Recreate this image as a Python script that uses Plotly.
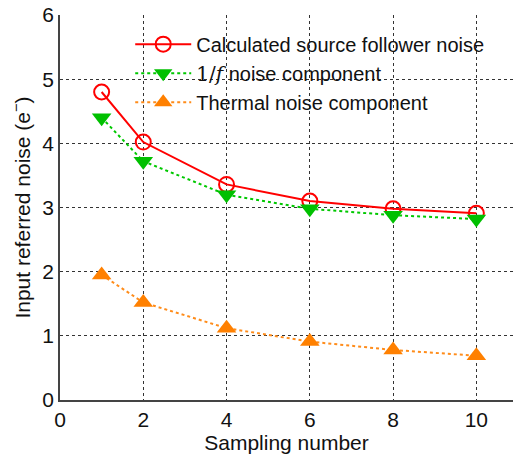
import plotly.graph_objects as go

sampling = [1, 2, 4, 6, 8, 10]
total_noise = [4.80, 4.02, 3.36, 3.10, 2.98, 2.91]
flicker_noise = [4.40, 3.72, 3.20, 2.98, 2.88, 2.82]
thermal_noise = [1.95, 1.52, 1.12, 0.91, 0.78, 0.69]
x_ticks = [0, 2, 4, 6, 8, 10, 12]
y_ticks = [0, 1, 2, 3, 4, 5, 6]

fig = go.Figure()
fig.add_trace(go.Scatter(
    x=sampling, y=total_noise, mode="lines+markers",
    name="Calculated source follower noise",
    line=dict(color="#ff0000", width=2),
    marker=dict(symbol="circle-open", size=15, color="#ff0000", line=dict(width=2))))
fig.add_trace(go.Scatter(
    x=sampling, y=flicker_noise, mode="lines+markers",
    name='<span style="font-family:DejaVu Serif">1/<i>f</i></span> noise component',
    line=dict(color="#00c800", width=2, dash="dot"),
    marker=dict(symbol="triangle-down", size=17, color="#00c000")))
fig.add_trace(go.Scatter(
    x=sampling, y=thermal_noise, mode="lines+markers",
    name="Thermal noise component",
    line=dict(color="#ff8c1a", width=2, dash="dot"),
    marker=dict(symbol="triangle-up", size=17, color="#ff8000")))

fig.update_layout(
    width=513, height=458,
    margin=dict(l=60, r=0, t=15, b=58, autoexpand=False),
    paper_bgcolor="white", plot_bgcolor="white",
    font=dict(family="Liberation Sans, Arial, sans-serif", color="#111111"),
    showlegend=True,
    legend=dict(x=0.155, y=0.975, xanchor="left", yanchor="top",
                bgcolor="rgba(0,0,0,0)", font=dict(size=20),
                tracegroupgap=0, itemwidth=56),
    xaxis=dict(range=[0, 10.88], tickvals=x_ticks, showgrid=True,
               gridcolor="#333333", griddash="dot", gridwidth=1,
               showline=True, linecolor="#444444", linewidth=1.5,
               ticks="", tickfont=dict(size=21), automargin=False,
               title=dict(text="Sampling number", font=dict(size=21), standoff=4),
               zeroline=False),
    yaxis=dict(range=[0, 6], tickvals=y_ticks, showgrid=True,
               gridcolor="#333333", griddash="dot", gridwidth=1,
               showline=True, linecolor="#444444", linewidth=1.5,
               ticks="", tickfont=dict(size=21), automargin=False,
               title=dict(text="Input referred noise (e<sup>−</sup>)", font=dict(size=21), standoff=6),
               zeroline=False),
)
fig.write_html("out.html", config={"displayModeBar": False},
               post_script="document.body.style.margin='0';document.body.style.overflow='hidden';")
